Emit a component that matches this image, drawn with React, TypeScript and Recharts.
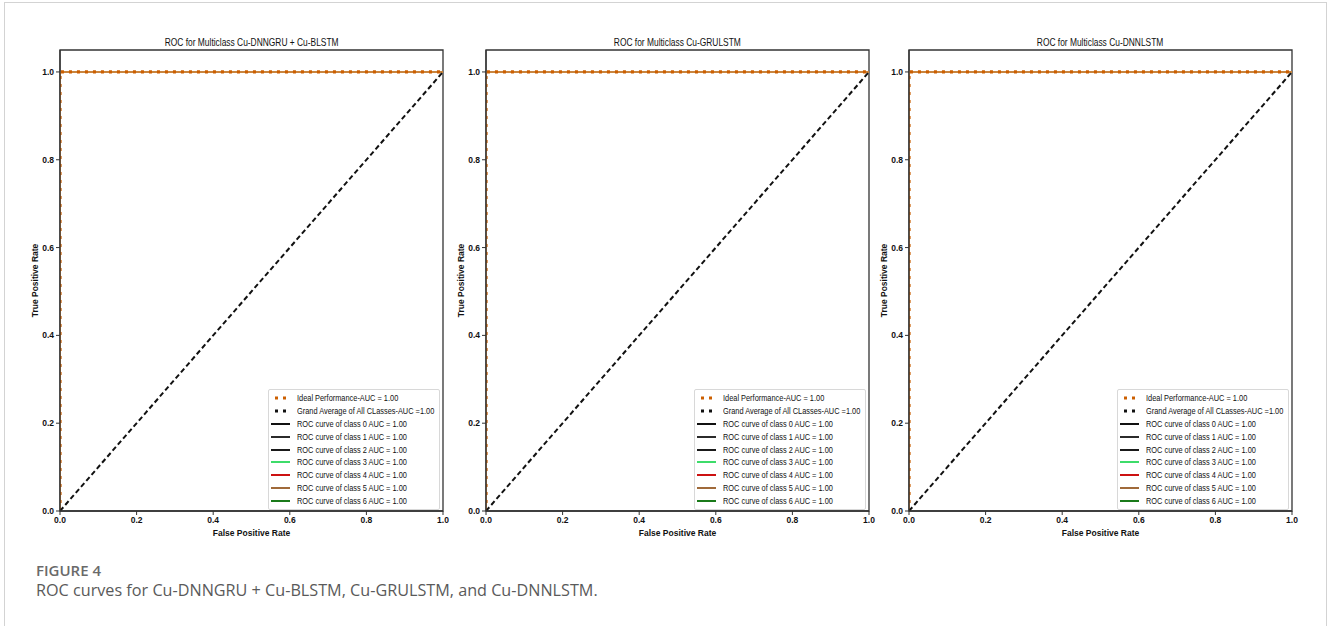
import React from 'react';
import { LineChart, Line, XAxis, YAxis, ReferenceArea, Legend } from 'recharts';

const panelTitles = [
  'ROC for Multiclass Cu-DNNGRU + Cu-BLSTM',
  'ROC for Multiclass Cu-GRULSTM',
  'ROC for Multiclass Cu-DNNLSTM',
];
const xTicks = [0, 0.2, 0.4, 0.6, 0.8, 1.0];
const yTicks = [0, 0.2, 0.4, 0.6, 0.8, 1.0];

// ROC points (all classes reach AUC = 1.00)
const rocFpr = [0, 0, 1];
const rocTpr = [0, 1, 1];
const idealFpr = [0, 0, 1];
const idealTpr = [0, 1, 1];
const grandFpr = [0, 1];
const grandTpr = [0, 1];

const classNames = ['0', '1', '2', '3', '4', '5', '6'];
const classAuc = [1.0, 1.0, 1.0, 1.0, 1.0, 1.0, 1.0];
const classColors = ['#111111', '#2b2b2b', '#1a1a1a', '#3ddc6a', '#cc1111', '#a06a3a', '#1a7a1a'];
const idealAuc = 1.0;
const grandAuc = 1.0;
const idealColor = '#cc5f00';
const grandColor = '#111111';

const toPts = (xs: number[], ys: number[]) => xs.map((x, i) => ({ x, y: ys[i] }));

const FONT = '"Liberation Sans", "DejaVu Sans", sans-serif';

const chartLefts = [0, 426, 849];
const CH_W = 455;
const CH_H = 551;
const PLOT_W = 383;

type LegendItem = { label: string; color: string; kind: 'dots' | 'line' };

const legendItems: LegendItem[] = [
  { label: `Ideal Performance-AUC = ${idealAuc.toFixed(2)}`, color: idealColor, kind: 'dots' },
  { label: `Grand Average of All CLasses-AUC =${grandAuc.toFixed(2)}`, color: grandColor, kind: 'dots' },
  ...classNames.map((c, i) => ({
    label: `ROC curve of class ${c} AUC = ${classAuc[i].toFixed(2)}`,
    color: classColors[i],
    kind: 'line' as const,
  })),
];

const LegendBox = () => (
  <div
    style={{
      width: 172,
      border: '1px solid #d8d8d8',
      borderRadius: 2,
      background: '#fff',
      padding: '2px 0 2px 0',
      fontFamily: FONT,
      fontSize: 8.8,
      color: '#111',
      boxSizing: 'border-box',
      overflow: 'hidden',
    }}
  >
    {legendItems.map((it, i) => (
      <div key={i} style={{ display: 'flex', alignItems: 'center', height: 12.8, whiteSpace: 'nowrap' }}>
        <svg width={26} height={10} style={{ flex: 'none' }}>
          {it.kind === 'line' ? (
            <line x1={2} y1={5} x2={21} y2={5} stroke={it.color} strokeWidth={1.8} />
          ) : (
            <g fill={it.color}>
              <rect x={6} y={3.5} width={3} height={3} />
              <rect x={14} y={3.5} width={3} height={3} />
            </g>
          )}
        </svg>
        <span style={{ marginLeft: 2, display: 'inline-block', transform: 'scaleX(0.84)', transformOrigin: 'left center' }}>
          {it.label}
        </span>
      </div>
    ))}
  </div>
);

const tickStyle = { fontSize: 8.5, fontFamily: FONT, fill: '#111', fontWeight: 700 };

const Panel = ({ idx }: { idx: number }) => {
  const left = chartLefts[idx];
  return (
    <div style={{ position: 'absolute', left, top: 0, width: CH_W, height: CH_H }}>
      <div
        style={{
          position: 'absolute',
          left: 60,
          width: PLOT_W,
          top: 35,
          textAlign: 'center',
          fontFamily: FONT,
          fontSize: 10.5,
          color: '#111',
          lineHeight: '14px',
          whiteSpace: 'nowrap',
        }}
      >
        <span style={{ display: 'inline-block', transform: 'scaleX(0.8)', transformOrigin: 'center' }}>
          {panelTitles[idx]}
        </span>
      </div>
      <LineChart width={CH_W} height={CH_H} margin={{ top: 50, right: CH_W - 60 - PLOT_W, bottom: 0, left: 0 }}>
        <XAxis
          type="number"
          dataKey="x"
          domain={[0, 1]}
          ticks={xTicks}
          tickFormatter={(v: number) => v.toFixed(1)}
          tick={tickStyle}
          tickSize={4}
          tickLine={{ stroke: '#333' }}
          axisLine={{ stroke: '#333', strokeWidth: 1.3 }}
          height={40}
          allowDataOverflow
          label={{ value: 'False Positive Rate', position: 'center', dy: 2, style: { fontSize: 8.5, fontFamily: FONT, fill: '#111', fontWeight: 700 } }}
        />
        <YAxis
          type="number"
          domain={[0, 1.05]}
          ticks={yTicks}
          tickFormatter={(v: number) => v.toFixed(1)}
          tick={tickStyle}
          tickSize={4}
          tickLine={{ stroke: '#333' }}
          axisLine={{ stroke: '#333', strokeWidth: 1.3 }}
          width={60}
          allowDataOverflow
          label={{ value: 'True Positive Rate', angle: -90, position: 'center', dx: 5, style: { fontSize: 8.5, fontFamily: FONT, fill: '#111', fontWeight: 700, textAnchor: 'middle' } }}
        />
        <ReferenceArea x1={0} x2={1} y1={0} y2={1.05} fill="none" stroke="#333" strokeWidth={1.3} ifOverflow="visible" />
        {classNames.map((c, i) => (
          <Line
            key={c}
            data={toPts(rocFpr, rocTpr)}
            dataKey="y"
            type="linear"
            stroke={classColors[i]}
            strokeWidth={1.6}
            dot={false}
            activeDot={false}
            isAnimationActive={false}
          />
        ))}
        <Line
          data={toPts(rocFpr, rocTpr)}
          dataKey="y"
          type="linear"
          stroke="#c8843e"
          strokeWidth={2}
          dot={false}
          activeDot={false}
          isAnimationActive={false}
        />
        <Line
          data={toPts(idealFpr, idealTpr)}
          dataKey="y"
          type="linear"
          stroke={idealColor}
          strokeWidth={3.2}
          strokeDasharray="3 5"
          dot={false}
          activeDot={false}
          isAnimationActive={false}
        />
        <Line
          data={toPts(grandFpr, grandTpr)}
          dataKey="y"
          type="linear"
          stroke={grandColor}
          strokeWidth={2}
          strokeDasharray="5 3"
          dot={false}
          activeDot={false}
          isAnimationActive={false}
        />
        <Legend
          layout="vertical"
          align="center"
          verticalAlign="middle"
          wrapperStyle={{ left: 268, top: 389, width: 172 }}
          content={() => <LegendBox />}
        />
      </LineChart>
    </div>
  );
};

export default function App() {
  return (
    <div style={{ position: 'absolute', left: 0, top: 0, width: 1330, height: 626, background: '#fff', overflow: 'hidden' }}>
      <div
        style={{
          position: 'absolute',
          left: 4,
          top: 2,
          width: 1323,
          height: 700,
          border: '1px solid #d3d3d3',
          boxSizing: 'border-box',
        }}
      />
      {[0, 1, 2].map((i) => (
        <Panel key={i} idx={i} />
      ))}
      <div
        style={{
          position: 'absolute',
          left: 36,
          top: 560,
          fontFamily: '"Open Sans", "Noto Sans", sans-serif',
          fontSize: 15,
          fontWeight: 600,
          color: '#6a6a6a',
          lineHeight: '20px',
        }}
      >
        FIGURE 4
      </div>
      <div
        style={{
          position: 'absolute',
          left: 36,
          top: 579,
          fontFamily: '"Open Sans", "Noto Sans", sans-serif',
          fontSize: 16.2,
          color: '#5a5a5a',
          lineHeight: '22px',
        }}
      >
        ROC curves for Cu-DNNGRU + Cu-BLSTM, Cu-GRULSTM, and Cu-DNNLSTM.
      </div>
    </div>
  );
}
